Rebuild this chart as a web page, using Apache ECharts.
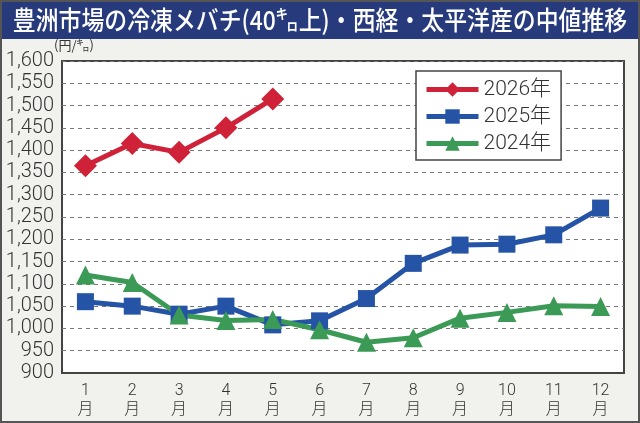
<!DOCTYPE html>
<html>
<head>
<meta charset="utf-8">
<script src="https://cdn.jsdelivr.net/npm/echarts@6/dist/echarts.min.js"></script>
<style>
  html, body { margin: 0; padding: 0; background: #f1f1ed; }
  #chart { width: 640px; height: 423px; }
</style>
</head>
<body>
<div id="chart"></div>
<script>
// 月ラベル
const months = ['1\n月', '2\n月', '3\n月', '4\n月', '5\n月', '6\n月', '7\n月', '8\n月', '9\n月', '10\n月', '11\n月', '12\n月']

// 中値 (円/㌔)
const y2026 = [1365, 1415, 1395, 1450, 1515]
const y2025 = [1060, 1050, 1032, 1050, 1008, 1017, 1067, 1146, 1187, 1189, 1210, 1270]
const y2024 = [1120, 1103, 1030, 1018, 1020, 997, 969, 979, 1023, 1036, 1051, 1049]

const RED = '#cf2238'
const BLUE = '#2553a5'
const GREEN = '#3b9a55'

const chart = echarts.init(document.getElementById('chart'))

function lineSeries(name, data, color, symbol, size) {
  return {
    name: name,
    type: 'line',
    data: data,
    symbol: symbol,
    symbolSize: size,
    lineStyle: { color: color, width: 5 },
    itemStyle: { color: color },
    z: 3
  }
}

const option = {
  backgroundColor: '#f1f1ed',
  animation: false,
  graphic: [
    {
      type: 'rect',
      shape: { x: 0, y: 0, width: 640, height: 39 },
      style: { fill: '#263a7c' },
      z: -1
    },
    {
      type: 'rect',
      shape: { x: 1, y: 1, width: 638, height: 421 },
      style: { fill: 'none', stroke: '#555', lineWidth: 2 },
      z: 10
    },
    {
      type: 'text',
      x: 320,
      y: 20,
      scaleX: 0.88,
      style: {
        text: '豊洲市場の冷凍メバチ(40㌔上)・西経・太平洋産の中値推移',
        fill: '#fff',
        font: '500 26px "Noto Sans CJK JP"',
        align: 'center',
        verticalAlign: 'middle'
      },
      z: 11
    }
  ],
  legend: {
    left: 416,
    top: 71,
    orient: 'vertical',
    itemWidth: 52,
    itemHeight: 18,
    itemGap: 6,
    padding: [8, 10, 6, 8],
    backgroundColor: '#fff',
    borderColor: '#444',
    borderWidth: 1.5,
    lineStyle: { width: 5 },
    textStyle: { fontSize: 21, color: '#333', fontFamily: 'Roboto, "Noto Sans CJK JP"', fontWeight: 300 },
    data: ['2026年', '2025年', '2024年']
  },
  grid: {
    left: 62,
    right: 16,
    top: 61,
    bottom: 50,
    show: true,
    backgroundColor: '#fff',
    borderColor: '#444',
    borderWidth: 2
  },
  xAxis: {
    type: 'category',
    data: months,
    boundaryGap: true,
    axisLine: { lineStyle: { color: '#444', width: 2 } },
    axisTick: { inside: true, length: 6, lineStyle: { color: '#444' } },
    axisLabel: {
      color: '#333',
      fontSize: 16,
      lineHeight: 19,
      margin: 8,
      fontFamily: 'Roboto, "Noto Sans CJK JP"',
      fontWeight: 300
    }
  },
  yAxis: {
    type: 'value',
    min: 900,
    max: 1600,
    interval: 50,
    name: '(円/㌔)',
    nameLocation: 'end',
    nameGap: 3,
    nameTextStyle: { color: '#333', fontSize: 13, align: 'left', padding: [0, 0, 0, -8], fontFamily: '"Noto Sans CJK JP"' },
    axisLine: { show: false },
    axisTick: { show: false },
    axisLabel: {
      color: '#333',
      fontSize: 20,
      margin: 8,
      fontFamily: 'Roboto',
      fontWeight: 300,
      formatter: v => v.toLocaleString('en-US')
    },
    splitLine: { lineStyle: { color: '#777', type: [4, 4], width: 1 } }
  },
  series: [
    lineSeries('2026年', y2026, RED, 'diamond', 23),
    lineSeries('2025年', y2025, BLUE, 'rect', 17),
    lineSeries('2024年', y2024, GREEN, 'triangle', 19)
  ]
}

chart.setOption(option)
</script>
</body>
</html>
